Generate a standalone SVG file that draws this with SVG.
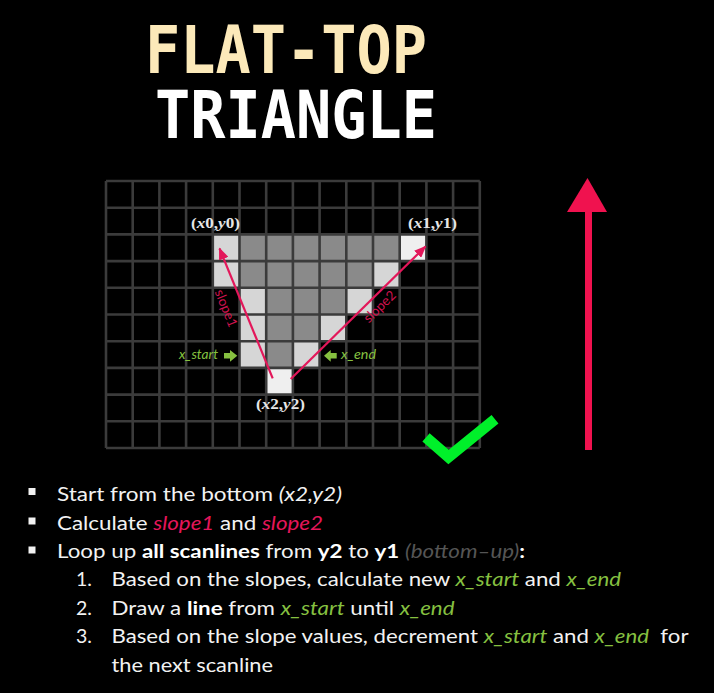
<svg xmlns="http://www.w3.org/2000/svg" width="714" height="693" viewBox="0 0 714 693">
<style>
.title{font-family:"DejaVu Sans Mono",monospace;font-weight:bold;font-size:66px}
.pt{font-family:"Liberation Serif",serif;font-weight:bold;font-size:14px;fill:#e6e6e6}
.it{font-style:italic}
.body{font-family:Lato,"Liberation Sans",sans-serif;font-size:19.5px;fill:#f2f2f2}
.b{font-weight:bold;fill:#ffffff}
.red{font-style:italic;fill:#e5165a}
.grn{font-style:italic;fill:#86c040}
.gry{font-style:italic;fill:#555555}
.lbl{font-family:Lato,"Liberation Sans",sans-serif;font-style:italic;font-size:13.5px;fill:#86c040}
.slp{font-family:Lato,"Liberation Sans",sans-serif;font-size:13.5px;fill:#cf134e}
.L{fill:#d6d6d6}.G{fill:#8a8a8a}.W{fill:#efefef}
</style>
<defs>
<marker id="ah" markerUnits="userSpaceOnUse" markerWidth="12" markerHeight="10" refX="11" refY="5" orient="auto">
<path d="M0,0 L12,5 L0,10 z" fill="#e3175a"/>
</marker>
</defs>
<rect width="714" height="693" fill="#000"/>
<g id="title">
<text class="title" x="145" y="73" textLength="282" lengthAdjust="spacingAndGlyphs" fill="#fce9b9">FLAT-TOP</text>
<text class="title" x="155" y="138" textLength="282" lengthAdjust="spacingAndGlyphs" fill="#ffffff">TRIANGLE</text>
</g>
<g id="grid" transform="translate(106,181) scale(26.7)">
<g id="cells">
<rect class="L" x="4" y="2" width="1" height="1"/>
<rect class="G" x="5" y="2" width="6" height="1"/>
<rect class="W" x="11" y="2" width="1" height="1"/>
<rect class="L" x="4" y="3" width="1" height="1"/>
<rect class="G" x="5" y="3" width="5" height="1"/>
<rect class="L" x="10" y="3" width="1" height="1"/>
<rect class="L" x="5" y="4" width="1" height="1"/>
<rect class="G" x="6" y="4" width="3" height="1"/>
<rect class="L" x="9" y="4" width="1" height="1"/>
<rect class="L" x="5" y="5" width="1" height="1"/>
<rect class="G" x="6" y="5" width="2" height="1"/>
<rect class="L" x="8" y="5" width="1" height="1"/>
<rect class="L" x="5" y="6" width="1" height="1"/>
<rect class="G" x="6" y="6" width="1" height="1"/>
<rect class="L" x="7" y="6" width="1" height="1"/>
<rect class="W" x="6" y="7" width="1" height="1"/>
</g>
<path fill="none" stroke="#3b3b3b" stroke-width="2.6" vector-effect="non-scaling-stroke" d="M0 0H14M0 1H14M0 2H14M0 3H14M0 4H14M0 5H14M0 6H14M0 7H14M0 8H14M0 9H14M0 10H14M0 0V10M1 0V10M2 0V10M3 0V10M4 0V10M5 0V10M6 0V10M7 0V10M8 0V10M9 0V10M10 0V10M11 0V10M12 0V10M13 0V10M14 0V10"/>
</g>
<g id="vertex-labels">
<text class="pt" x="215.5" y="228" text-anchor="middle" textLength="49" lengthAdjust="spacingAndGlyphs">(<tspan class="it">x</tspan>0,<tspan class="it">y</tspan>0)</text>
<text class="pt" x="432.5" y="228" text-anchor="middle" textLength="49" lengthAdjust="spacingAndGlyphs">(<tspan class="it">x</tspan>1,<tspan class="it">y</tspan>1)</text>
<text class="pt" x="280.5" y="409" text-anchor="middle" textLength="49" lengthAdjust="spacingAndGlyphs">(<tspan class="it">x</tspan>2,<tspan class="it">y</tspan>2)</text>
</g>
<g id="connectors">
<line x1="272.7" y1="378.3" x2="219.5" y2="248.5" stroke="#e3175a" stroke-width="2.2" marker-end="url(#ah)"/>
<line x1="290.7" y1="379" x2="425.5" y2="246.5" stroke="#e3175a" stroke-width="2.2" marker-end="url(#ah)"/>
<text class="slp" transform="translate(225.5,308.5) rotate(68)" x="0" y="4" text-anchor="middle">slope1</text>
<text class="slp" transform="translate(380,307) rotate(-44)" x="0" y="4" text-anchor="middle">slope2</text>
</g>
<g id="scan-labels">
<text class="lbl" x="179" y="358.5" textLength="39" lengthAdjust="spacingAndGlyphs">x_start</text>
<polygon fill="#86c040" points="224,353 230,353 230,350 237.3,355.8 230,361.7 230,358.6 224,358.6"/>
<polygon fill="#86c040" points="336.7,353 330.7,353 330.7,350 324,355.8 330.7,361.7 330.7,358.6 336.7,358.6"/>
<text class="lbl" x="341" y="358.5" textLength="35" lengthAdjust="spacingAndGlyphs">x_end</text>
</g>
<g id="check">
<polyline points="426,437.3 448.5,457 495,419.3" fill="none" stroke="#00f02a" stroke-width="11"/>
</g>
<g id="up-arrow">
<rect x="585" y="208" width="7" height="242" fill="#f0124f"/>
<polygon points="587.5,178 607,212 567,212" fill="#f0124f"/>
</g>
<g id="text">
<rect x="28.5" y="488" width="7" height="7" fill="#f2f2f2"/>
<rect x="28.5" y="517.5" width="7" height="7" fill="#f2f2f2"/>
<rect x="28.5" y="546.5" width="7" height="7" fill="#f2f2f2"/>
<text class="body" x="57" y="500.5" textLength="285" lengthAdjust="spacingAndGlyphs">Start from the bottom <tspan class="it">(x2,y2)</tspan></text>
<text class="body" x="57" y="529.5" textLength="266" lengthAdjust="spacingAndGlyphs">Calculate <tspan class="red">slope1</tspan> and <tspan class="red">slope2</tspan></text>
<text class="body" x="57" y="558" textLength="468" lengthAdjust="spacingAndGlyphs">Loop up <tspan class="b">all scanlines</tspan> from <tspan class="b">y2</tspan> to <tspan class="b">y1</tspan> <tspan class="gry">(bottom–up)</tspan><tspan class="b">:</tspan></text>
<text class="body" x="76" y="586">1.</text>
<text class="body" x="76" y="614.5">2.</text>
<text class="body" x="76" y="643">3.</text>
<text class="body" x="111.5" y="586" textLength="509.5" lengthAdjust="spacingAndGlyphs">Based on the slopes, calculate new <tspan class="grn">x_start</tspan> and <tspan class="grn">x_end</tspan></text>
<text class="body" x="111.5" y="614.5" textLength="343" lengthAdjust="spacingAndGlyphs">Draw a <tspan class="b">line</tspan> from <tspan class="grn">x_start</tspan> until <tspan class="grn">x_end</tspan></text>
<text class="body" x="111.5" y="643" textLength="577" lengthAdjust="spacingAndGlyphs">Based on the slope values, decrement <tspan class="grn">x_start</tspan> and <tspan class="grn">x_end</tspan>&#160; for</text>
<text class="body" x="111.5" y="671.5" textLength="161.5" lengthAdjust="spacingAndGlyphs">the next scanline</text>
</g>
</svg>
